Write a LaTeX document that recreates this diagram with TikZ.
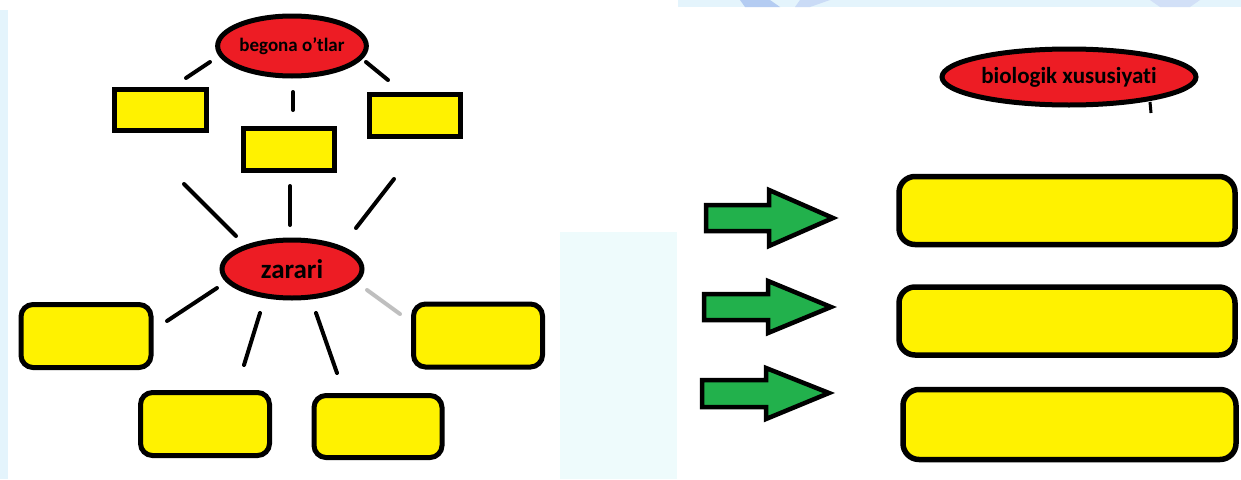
\documentclass[tikz,border=0pt]{standalone}
\usepackage{fontspec}
\setmainfont[Ligatures=NoCommon]{Carlito}
\usetikzlibrary{shapes.geometric}
\definecolor{redfill}{HTML}{ED1C24}
\definecolor{yel}{HTML}{FFF200}
\definecolor{grn}{HTML}{22B14C}
\definecolor{paleblue}{HTML}{E4F4FC}
\definecolor{palecyan}{HTML}{EEFBFC}
\definecolor{patchblue}{HTML}{B4CCF2}
\tikzset{
  oval/.style={ellipse, draw=black, line width=5pt, fill=redfill, inner sep=0pt, font=\bfseries},
  sqbox/.style={rectangle, draw=black, line width=5pt, fill=yel, inner sep=0pt},
  rbox/.style={rectangle, rounded corners=12pt, draw=black, line width=5pt, fill=yel, inner sep=0pt},
  bar/.style={rectangle, rounded corners=16pt, draw=black, line width=5.5pt, fill=yel, inner sep=0pt, minimum width=336pt, minimum height=68pt},
  link/.style={draw=black, line width=4pt, line cap=round},
  greylink/.style={draw=black!25, line width=4pt, line cap=round},
  grarrow/.style={draw=black, line width=4.5pt, fill=grn, line join=miter},
}
\begin{document}
\begin{tikzpicture}[x=1pt,y=-1pt]
\useasboundingbox (0,0) rectangle (1241,479);
\fill[white] (0,0) rectangle (1241,479);
% background hints
\fill[paleblue] (0,10) rectangle (8,479);
\fill[palecyan] (560,232) rectangle (677,479);
\fill[paleblue] (678,0) rectangle (1241,7);
\fill[patchblue] (740,0) -- (770,0) -- (780,7) -- (745,7) -- cycle;
\fill[patchblue!70] (800,0) -- (830,0) -- (810,7) -- (795,7) -- cycle;
\fill[patchblue!60] (1150,0) -- (1200,0) -- (1190,7) -- (1160,7) -- cycle;

% ---- left: begona o'tlar
\node[oval, minimum width=140pt, minimum height=60pt] (e1) at (292,46) {\fontsize{19}{22}\selectfont begona o{\char"27}tlar};
\node[sqbox, minimum width=92pt, minimum height=41pt] (rA) at (160,109.5) {};
\node[sqbox, minimum width=91pt, minimum height=42pt] (rB) at (288.5,149) {};
\node[sqbox, minimum width=91pt, minimum height=42pt] (rC) at (414.5,115) {};

\coordinate (a1) at (210,62);  \coordinate (a2) at (186,78);
\coordinate (b1) at (293,92);  \coordinate (b2) at (293,110);
\coordinate (c1) at (366,62);  \coordinate (c2) at (388,80);
\draw[link] (a1) -- (a2);
\draw[link] (b1) -- (b2);
\draw[link] (c1) -- (c2);

% ---- zarari
\node[oval, minimum width=140pt, minimum height=58pt] (e2) at (292,269) {\fontsize{27}{30}\selectfont zarari};

\coordinate (d1) at (184,184); \coordinate (d2) at (236,236);
\coordinate (f1) at (290,186); \coordinate (f2) at (290,225);
\coordinate (g1) at (394,179); \coordinate (g2) at (356,228);
\draw[link] (d1) -- (d2);
\draw[link] (f1) -- (f2);
\draw[link] (g1) -- (g2);

\node[rbox, minimum width=130pt, minimum height=63pt] (z1) at (86,336) {};
\node[rbox, minimum width=129pt, minimum height=63pt] (z2) at (205,424) {};
\node[rbox, minimum width=128pt, minimum height=62pt] (z3) at (378,426.5) {};
\node[rbox, minimum width=129pt, minimum height=63pt] (z4) at (478,335.5) {};

\coordinate (h1) at (217,288); \coordinate (h2) at (167,321);
\coordinate (i1) at (260,313); \coordinate (i2) at (244,365);
\coordinate (j1) at (316,313); \coordinate (j2) at (337,373);
\coordinate (k1) at (367,290); \coordinate (k2) at (400,314);
\draw[link] (h1) -- (h2);
\draw[link] (i1) -- (i2);
\draw[link] (j1) -- (j2);
\draw[greylink] (k1) -- (k2);

% ---- right: biologik xususiyati
\node[oval, minimum width=254pt, minimum height=56pt] (e3) at (1069,77) {\fontsize{23}{26}\selectfont biologik xususiyati};
\coordinate (t1) at (1150,102); \coordinate (t2) at (1151,113);
\draw[draw=black, line width=3pt] (t1) -- (t2);

% arrows
\draw[grarrow] (706,205) -- (769,205) -- (769,190) -- (833,218) -- (769,246) -- (769,231) -- (706,231) -- cycle;
\draw[grarrow] (704,294) -- (768,294) -- (768,281) -- (831,307) -- (768,333) -- (768,320) -- (704,320) -- cycle;
\draw[grarrow] (702,380) -- (766,380) -- (766,368) -- (829,393) -- (766,419) -- (766,407) -- (702,407) -- cycle;

% bars
\node[bar] (p1) at (1067,210.5) {};
\node[bar] (p2) at (1067,321) {};
\node[bar, minimum width=333pt, minimum height=70pt] (p3) at (1069.5,424.5) {};
\end{tikzpicture}
\end{document}
